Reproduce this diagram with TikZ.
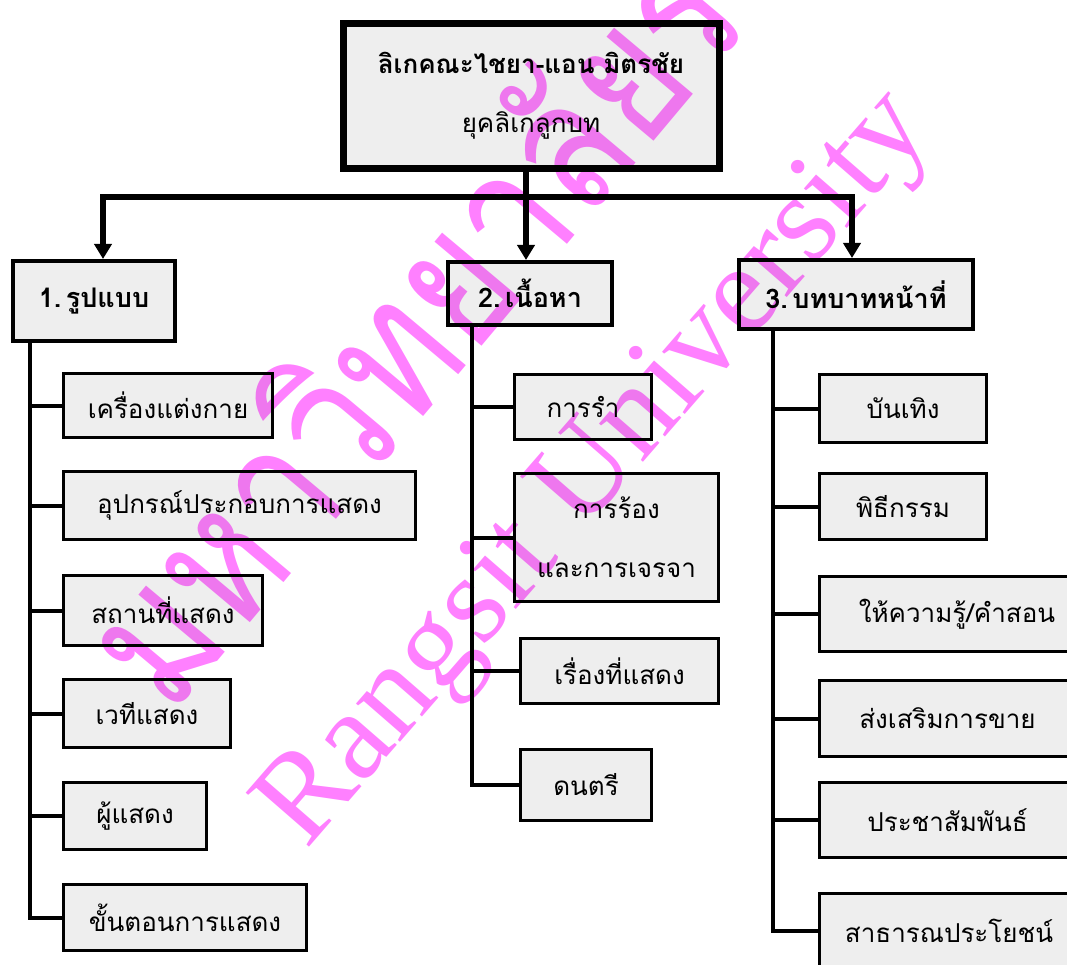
\documentclass[tikz,border=0pt]{standalone}
\usepackage{fontspec}
\newfontfamily\thaifont[Script=Thai]{Loma}
\newfontfamily\wmfont{Liberation Serif}
\usetikzlibrary{arrows.meta}
\definecolor{boxgray}{RGB}{238,238,238}
\definecolor{wmpink}{RGB}{255,128,255}

\begin{document}
\begin{tikzpicture}[
        x = 1pt, y = -1pt,
        every node/.style = {font=\thaifont\fontsize{26}{59}\selectfont},
        rootbox/.style    = {draw, line width=7pt, fill=boxgray, align=center, inner sep=0pt,
                             minimum width=376pt, minimum height=145pt},
        headbox/.style    = {draw, line width=4pt, fill=boxgray, inner sep=0pt,
                             font=\thaifont\bfseries\fontsize{27}{34}\selectfont},
        leaf/.style       = {draw, line width=3pt, fill=boxgray, anchor=west, align=center, inner sep=0pt},
        spine/.style      = {draw, line width=4pt, line join=miter},
        feed/.style       = {draw, line width=6pt, line join=miter},
        tip/.style        = {-{Triangle[width=17pt, length=15pt]}},
        watermark/.style  = {text=wmpink, anchor=base west, inner sep=0pt},
      ]
        \useasboundingbox (0,0) rectangle (1067,965);
        \clip (0,0) rectangle (1067,965);

        % top of the chart
        \node[rootbox] (root) at (531,96) {{\bfseries ลิเกคณะไชยา-แอน มิตรชัย}\\ยุคลิเกลูกบท};

        \node[headbox, minimum width=162pt, minimum height=80pt] (form)    at (94,301)    {1.\,รูปแบบ};
        \node[headbox, minimum width=164pt, minimum height=63pt] (content) at (530,293.5) {2.\,เนื้อหา};
        \node[headbox, minimum width=234pt, minimum height=69pt] (role)    at (856,294.5) {3.\,บทบาทหน้าที่};

        \coordinate (j1) at (103,197);
        \coordinate (j2) at (526,197);
        \coordinate (j3) at (852,197);
        \draw[feed, {Triangle[width=17pt, length=15pt]}-{Triangle[width=17pt, length=15pt]}]
            (j1 |- form.north) -- (j1) -- (j3) -- (j3 |- role.north);
        \draw[feed, tip] (root.south -| j2) -- (j2 |- content.north);

        % 1. form
        \node[leaf, minimum width=209pt, minimum height=64pt] (dress)   at (62,405.5) {เครื่องแต่งกาย};
        \node[leaf, minimum width=352pt, minimum height=68pt] (props)   at (62,505.5) {อุปกรณ์ประกอบการแสดง};
        \node[leaf, minimum width=199pt, minimum height=70pt] (venue)   at (62,610.5) {สถานที่แสดง};
        \node[leaf, minimum width=167pt, minimum height=68pt] (stage)   at (62,713.5) {เวทีแสดง};
        \node[leaf, minimum width=143pt, minimum height=67pt] (actors)  at (62,816)   {ผู้แสดง};
        \node[leaf, minimum width=243pt, minimum height=66pt] (steps)   at (62,917.5) {ขั้นตอนการแสดง};

        \coordinate (s1) at (30,0);
        \draw[spine] (s1 |- form.south) |- (steps.west);
        \draw[spine] (s1 |- dress.west)  -- (dress.west);
        \draw[spine] (s1 |- props.west)  -- (props.west);
        \draw[spine] (s1 |- venue.west)  -- (venue.west);
        \draw[spine] (s1 |- stage.west)  -- (stage.west);
        \draw[spine] (s1 |- actors.west) -- (actors.west);

        % 2. content
        \node[leaf, minimum width=137pt, minimum height=65pt]  (dance)  at (513,407)   {การรำ};
        \node[leaf, minimum width=204pt, minimum height=128pt] (sing)   at (513,537.5) {การร้อง\\และการเจรจา};
        \node[leaf, minimum width=198pt, minimum height=65pt]  (story)  at (519,671)   {เรื่องที่แสดง};
        \node[leaf, minimum width=131pt, minimum height=71pt]  (music)  at (519,785)   {ดนตรี};

        \coordinate (s2) at (472,0);
        \draw[spine] (s2 |- content.south) |- (music.west);
        \draw[spine] (s2 |- dance.west) -- (dance.west);
        \draw[spine] (s2 |- sing.west)  -- (sing.west);
        \draw[spine] (s2 |- story.west) -- (story.west);

        % 3. role
        \node[leaf, minimum width=167pt, minimum height=68pt] (fun)     at (818,408.5) {บันเทิง};
        \node[leaf, minimum width=167pt, minimum height=66pt] (rite)    at (818,506.5) {พิธีกรรม};
        \node[leaf, minimum width=275pt, minimum height=75pt] (teach)   at (818,614)   {ให้ความรู้/คำสอน};
        \node[leaf, minimum width=256pt, minimum height=76pt] (sales)   at (818,718.5) {ส่งเสริมการขาย};
        \node[leaf, minimum width=256pt, minimum height=75pt] (pr)      at (818,820)   {ประชาสัมพันธ์};
        \node[leaf, minimum width=259pt, minimum height=75pt] (public)  at (818,931)   {สาธารณประโยชน์};

        \coordinate (s3) at (773,0);
        \draw[spine] (s3 |- role.south) |- (public.west);
        \draw[spine] (s3 |- fun.west)   -- (fun.west);
        \draw[spine] (s3 |- rite.west)  -- (rite.west);
        \draw[spine] (s3 |- teach.west) -- (teach.west);
        \draw[spine] (s3 |- sales.west) -- (sales.west);
        \draw[spine] (s3 |- pr.west)    -- (pr.west);

        % watermark
        \begin{scope}[blend mode=multiply]
            \node[watermark, rotate=50, xscale=0.82, font=\thaifont\fontsize{185}{185}\selectfont]
                (wmthai)  at (170,718) {มหาวิทยาลัยรังสิต};
            \node[watermark, rotate=49, font=\wmfont\fontsize{127}{127}\selectfont]
                (wmlatin) at (306,851) {Rangsit University};
        \end{scope}
\end{tikzpicture}
\end{document}
